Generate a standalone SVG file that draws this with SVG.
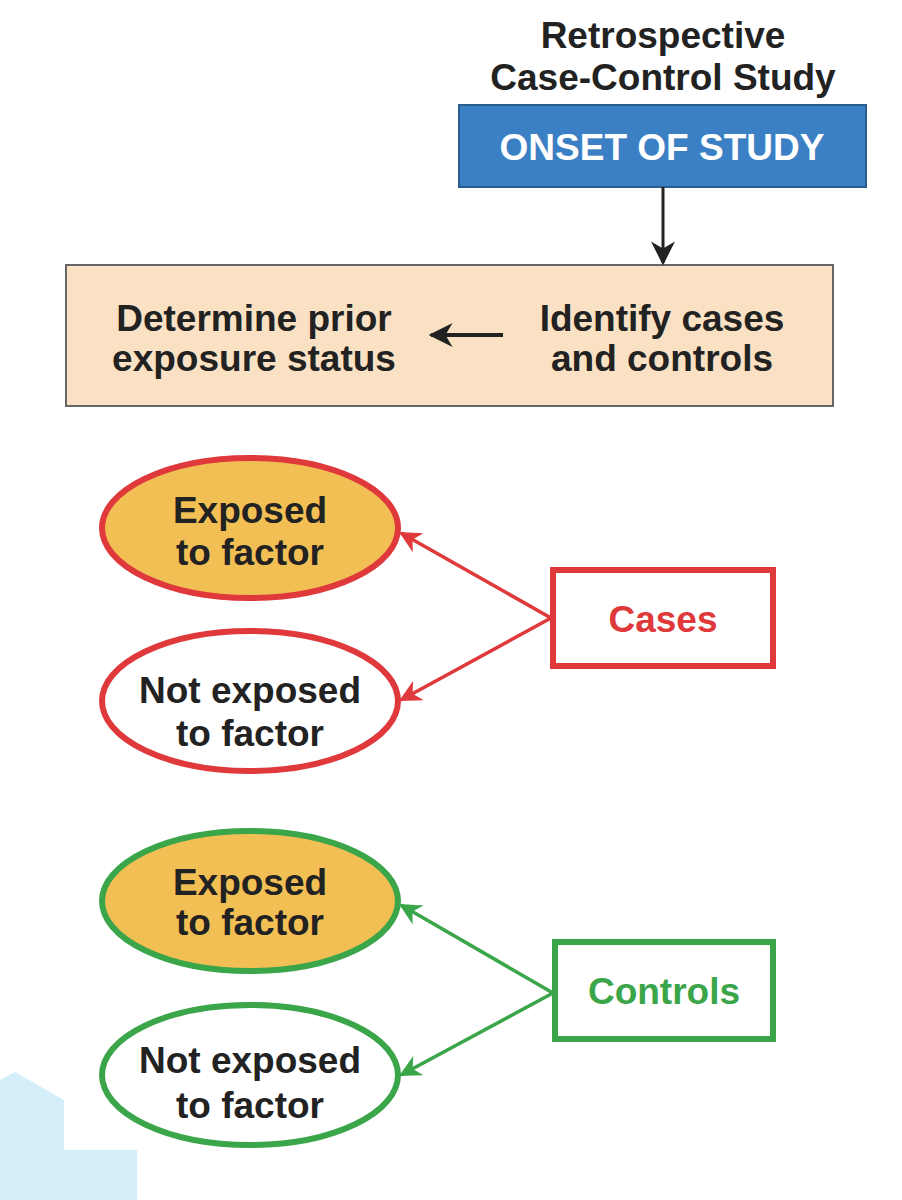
<svg xmlns="http://www.w3.org/2000/svg" width="902" height="1200" viewBox="0 0 902 1200">
<style>
text{font-family:"Liberation Sans",Arial,sans-serif;font-weight:bold;text-anchor:middle;font-size:37px;fill:#222}
.red{stroke:#e0393b;stroke-width:6}
.green{stroke:#3ba54a;stroke-width:6}
.exp{fill:#f2bf55}
.nexp{fill:#fff}
</style>
<defs>
<marker id="ar" viewBox="0 0 10 10" refX="9" refY="5" markerWidth="22" markerHeight="22" orient="auto" markerUnits="userSpaceOnUse"><path d="M0,0 L10,5 L0,10 L3,5 z" fill="#e0393b"/></marker>
<marker id="ag" viewBox="0 0 10 10" refX="9" refY="5" markerWidth="22" markerHeight="22" orient="auto" markerUnits="userSpaceOnUse"><path d="M0,0 L10,5 L0,10 L3,5 z" fill="#3ba54a"/></marker>
<marker id="ak" viewBox="0 0 10 10" refX="9" refY="5" markerWidth="24" markerHeight="24" orient="auto" markerUnits="userSpaceOnUse"><path d="M0,0 L10,5 L0,10 L3,5 z" fill="#222"/></marker>
</defs>
<polygon points="0,1080 15,1072 64,1100 64,1150 137,1150 137,1200 0,1200" fill="#d4eefa"/>
<g id="title"><text x="663" y="48">Retrospective</text><text x="663" y="90">Case-Control Study</text></g>
<g id="onset"><rect x="459" y="105" width="407" height="82" fill="#3b7fc4" stroke="#2a5d8f" stroke-width="2"/><text x="662" y="160" style="fill:#fff">ONSET OF STUDY</text></g>
<g id="process"><rect x="66" y="265" width="767" height="141" fill="#fbe1c3" stroke="#666" stroke-width="2"/>
<text x="254" y="331">Determine prior</text><text x="254" y="371">exposure status</text>
<text x="662" y="331">Identify cases</text><text x="662" y="371">and controls</text></g>
<g id="cases-exposed"><ellipse cx="250" cy="528" rx="148" ry="70" class="red exp"/><text x="250" y="523">Exposed</text><text x="250" y="565">to factor</text></g>
<g id="cases-not-exposed"><ellipse cx="250" cy="701" rx="148" ry="70" class="red nexp"/><text x="250" y="703">Not exposed</text><text x="250" y="746">to factor</text></g>
<g id="cases"><rect x="553" y="570" width="220" height="96" fill="#fff" class="red"/><text x="663" y="632" style="fill:#e0393b">Cases</text></g>
<g id="controls-exposed"><ellipse cx="250" cy="901" rx="148" ry="70" class="green exp"/><text x="250" y="895">Exposed</text><text x="250" y="935">to factor</text></g>
<g id="controls-not-exposed"><ellipse cx="250" cy="1075" rx="148" ry="70" class="green nexp"/><text x="250" y="1073">Not exposed</text><text x="250" y="1118">to factor</text></g>
<g id="controls"><rect x="555" y="942" width="218" height="97" fill="#fff" class="green"/><text x="664" y="1004" style="fill:#3ba54a">Controls</text></g>
<g id="connectors" fill="none">
<line x1="663" y1="187" x2="663" y2="263" stroke="#222" stroke-width="3" marker-end="url(#ak)"/>
<line x1="503" y1="335" x2="431" y2="335" stroke="#222" stroke-width="4" marker-end="url(#ak)"/>
<line x1="551" y1="618" x2="401" y2="533" stroke="#e0393b" stroke-width="3.5" marker-end="url(#ar)"/>
<line x1="551" y1="618" x2="401" y2="700" stroke="#e0393b" stroke-width="3.5" marker-end="url(#ar)"/>
<line x1="553" y1="993" x2="401" y2="905" stroke="#3ba54a" stroke-width="3.5" marker-end="url(#ag)"/>
<line x1="553" y1="993" x2="401" y2="1075" stroke="#3ba54a" stroke-width="3.5" marker-end="url(#ag)"/>
</g>
</svg>
